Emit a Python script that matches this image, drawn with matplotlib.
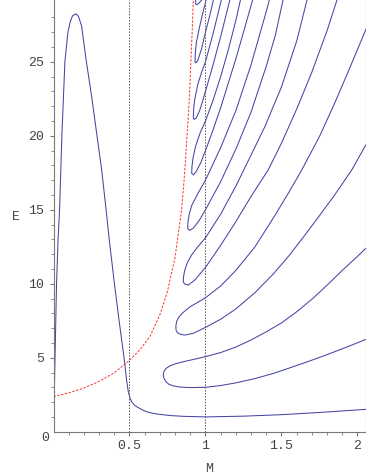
import matplotlib
matplotlib.use('Agg')
import matplotlib.pyplot as plt

# hump curve (single branch)
hump_m = [0, 0.01, 0.02, 0.03, 0.04, 0.055, 0.075, 0.095, 0.11, 0.125, 0.148, 0.165, 0.185, 0.214,
          0.251, 0.284, 0.317, 0.345, 0.367, 0.40, 0.431, 0.464, 0.481, 0.492, 0.503, 0.514, 0.53, 0.547,
          0.58, 0.613, 0.65, 0.70, 0.77, 0.852, 1.0, 1.25, 1.5, 1.75, 2.056]
hump_e = [0, 5, 10, 13, 15, 20, 25, 27, 27.7, 28.1, 28.24, 28.05, 27.4, 25.16,
          22.64, 20.16, 17.68, 15.1, 12.95, 10.07, 7.55, 5.0, 3.49, 2.7, 2.3, 2.03, 1.82, 1.69,
          1.5, 1.35, 1.25, 1.17, 1.09, 1.04, 1.0, 1.05, 1.15, 1.3, 1.51]

# red dashed curve
red_m = [0, 0.1, 0.2, 0.3, 0.4, 0.5, 0.57, 0.635, 0.7, 0.75, 0.8, 0.82, 0.843, 0.86, 0.876, 0.89, 0.898, 0.905, 0.913, 0.92]
red_e = [2.36, 2.62, 2.95, 3.4, 3.98, 4.82, 5.55, 6.45, 7.9, 9.5, 11.8, 13.3, 15.0, 17.1, 19.6, 21.8, 23.5, 25.3, 27.2, 29.17]

# hairpin contours: upper branch (from its end) -> nose -> lower branch
h1_m = [2.056, 2.0, 1.9, 1.8, 1.7, 1.6, 1.5, 1.4, 1.3, 1.2, 1.1, 1.0, 0.92, 0.854, 0.8, 0.766, 0.74, 0.726,
        0.722, 0.727, 0.74, 0.76, 0.79, 0.83, 0.9, 1.0, 1.1, 1.2, 1.33, 1.45, 1.545, 1.65, 1.764, 1.9, 2.056]
h1_e = [12.4, 11.85, 10.9, 9.9, 8.95, 8.1, 7.35, 6.75, 6.2, 5.72, 5.35, 5.07, 4.88, 4.73, 4.58, 4.45, 4.27, 4.05,
        3.83, 3.6, 3.38, 3.2, 3.09, 3.02, 2.98, 3.0, 3.12, 3.3, 3.6, 3.95, 4.28, 4.65, 5.07, 5.6, 6.24]

h2_m = [2.056, 1.95, 1.85, 1.75, 1.633, 1.55, 1.45, 1.326, 1.2, 1.1, 1.0, 0.9, 0.852, 0.825, 0.81, 0.805,
        0.806, 0.815, 0.835, 0.865, 0.92, 1.0, 1.1, 1.2, 1.326, 1.45, 1.55, 1.655, 1.75, 1.85, 1.962, 2.056]
h2_e = [27.2, 24.6, 22.2, 19.95, 17.68, 16.2, 14.5, 12.5, 10.9, 9.85, 9.05, 8.45, 8.05, 7.75, 7.45, 7.15,
        6.87, 6.7, 6.58, 6.53, 6.65, 7.05, 7.6, 8.3, 9.4, 10.7, 11.9, 13.3, 14.6, 16.0, 17.68, 19.4]

h3_m = [1.668, 1.6, 1.5, 1.39, 1.3, 1.2, 1.1, 1.0, 0.95, 0.909, 0.88, 0.863, 0.856,
        0.854, 0.862, 0.887, 0.93, 1.0, 1.1, 1.2, 1.3, 1.413, 1.5, 1.6, 1.7, 1.8, 1.865]
h3_e = [29.17, 26.4, 23.3, 20.6, 18.7, 16.6, 14.7, 13.1, 12.5, 11.95, 11.4, 10.9, 10.5,
        10.14, 9.98, 9.91, 10.25, 11.1, 12.6, 14.2, 15.9, 17.7, 19.5, 21.8, 24.3, 27.1, 29.17]

h4_m = [1.42, 1.4, 1.3, 1.2, 1.1, 1.0, 0.95, 0.91, 0.893, 0.885,
        0.883, 0.895, 0.92, 0.96, 1.0, 1.1, 1.2, 1.3, 1.4, 1.46, 1.51]
h4_e = [29.17, 28.4, 24.8, 21.7, 19.2, 17.0, 16.1, 15.3, 14.7, 14.2,
        13.74, 13.6, 13.75, 14.3, 15.0, 16.9, 19.1, 21.6, 24.7, 26.8, 29.17]

h5_m = [1.23, 1.2, 1.15, 1.1, 1.05, 1.0, 0.965, 0.935, 0.918, 0.911,
        0.909, 0.92, 0.94, 0.97, 1.0, 1.05, 1.1, 1.2, 1.3, 1.31]
h5_e = [29.17, 27.8, 25.8, 24.0, 22.4, 21.0, 20.2, 19.3, 18.5, 17.9,
        17.46, 17.35, 17.6, 18.2, 19.0, 20.4, 21.9, 25.2, 28.8, 29.17]

h6_m = [1.104, 1.1, 1.05, 1.0, 0.975, 0.95, 0.93, 0.922,
        0.92, 0.925, 0.94, 0.965, 1.0, 1.05, 1.1, 1.16]
h6_e = [29.17, 29.0, 26.9, 25.0, 24.3, 23.5, 22.5, 21.8,
        21.2, 21.1, 21.2, 21.8, 23.0, 24.8, 26.7, 29.17]

h7_m = [1.004, 1.0, 0.98, 0.96, 0.94, 0.933, 0.931, 0.936, 0.95, 0.975, 1.0, 1.03, 1.052]
h7_e = [29.17, 29.0, 28.2, 27.3, 26.3, 25.6, 25.0, 24.92, 25.1, 25.9, 27.0, 28.2, 29.17]

h8_m = [0.936, 0.935, 0.945, 0.96, 0.975]
h8_e = [29.17, 28.9, 28.85, 29.0, 29.17]

dotted_m = [0.5, 1.0]
x_ticks = [0.5, 1, 1.5, 2]
x_labels = ['0.5', '1', '1.5', '2']
y_ticks = [5, 10, 15, 20, 25]

plt.rcParams['font.family'] = ['Liberation Mono', 'DejaVu Sans Mono']
fig = plt.figure(figsize=(3.66, 4.76), dpi=100)
ax = fig.add_axes([53.5 / 366, 1 - 431.7 / 476, 1 - 53.5 / 366, 431.7 / 476])

blue = '#4545a5'
ax.plot(hump_m, hump_e, color=blue, lw=0.75)
for cm, ce in [(h1_m, h1_e), (h2_m, h2_e), (h3_m, h3_e), (h4_m, h4_e),
               (h5_m, h5_e), (h6_m, h6_e), (h7_m, h7_e), (h8_m, h8_e)]:
    ax.plot(cm, ce, color=blue, lw=0.75)
ax.plot(red_m, red_e, color='#ff3030', lw=0.7, dashes=(2.5, 1.5))
for xm in dotted_m:
    ax.axvline(xm, color='#555555', lw=0.7, ls=(0, (1.5, 1.5)))

ax.set_xlim(0, 2.056)
ax.set_ylim(0, 29.17)
ax.spines['top'].set_visible(False)
ax.spines['right'].set_color('#999999')
ax.spines['left'].set_color('#777777')
ax.spines['bottom'].set_color('#777777')
ax.set_xticks(x_ticks)
ax.set_xticklabels(x_labels)
ax.set_xticks([i / 10 for i in range(1, 21)], minor=True)
ax.set_yticks(y_ticks)
ax.set_yticks(range(1, 29), minor=True)
ax.tick_params(which='both', color='#777777', labelcolor='#444444', labelsize=9.5, direction='out')
ax.tick_params(which='major', length=3, width=0.8)
ax.tick_params(which='minor', length=2, width=0.6)
ax.tick_params(axis='x', pad=3)
ax.tick_params(axis='y', pad=4)

fig.text(45 / 366, 1 - 438 / 476, '0', ha='center', va='center', fontsize=9.5, color='#444444')
fig.text(209 / 366, 1 - 469 / 476, 'M', ha='center', va='center', fontsize=9.5, color='#444444')
fig.text(16 / 366, 1 - 217 / 476, 'E', ha='center', va='center', fontsize=9.5, color='#444444')

fig.savefig('out.png', dpi=100)
